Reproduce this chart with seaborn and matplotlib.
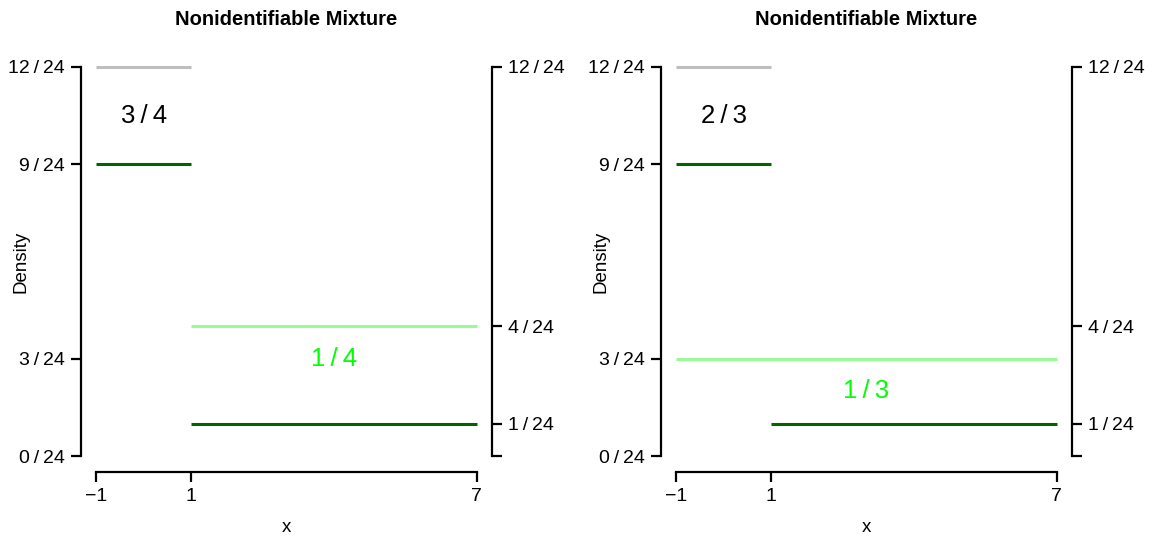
import matplotlib
matplotlib.use("Agg")
import matplotlib.pyplot as plt
import seaborn as sns
import pandas as pd

sns.set_style("white")
plt.rcParams["font.family"] = ["Liberation Sans", "DejaVu Sans"]
plt.rcParams.update({"text.color": "black", "axes.labelcolor": "black",
                     "xtick.color": "black", "ytick.color": "black"})

# Densities are expressed in 24ths
GRAY = "#bebebe"
DARK = "#006400"
PALE = "#98fb98"
LABEL_GREEN = "#00ff00"

# Left panel: mixture of U(-1,1) and U(1,7) with weights 3/4 and 1/4
left_x0 = [-1, -1, 1, 1]
left_x1 = [1, 1, 7, 7]
left_num = [12, 9, 4, 1]
left_col = [GRAY, DARK, PALE, DARK]

# Right panel: weights 2/3 and 1/3, second component U(-1,7)
right_x0 = [-1, -1, -1, 1]
right_x1 = [1, 1, 7, 7]
right_num = [12, 9, 3, 1]
right_col = [GRAY, DARK, PALE, DARK]

left_weights = ["3/4", "1/4"]
right_weights = ["2/3", "1/3"]
left_weight_pos = [(0, 0.437), (4, 3 / 24)]
right_weight_pos = [(0, 0.437), (3, 2 / 24)]

left_yticks = [0, 3, 9, 12]
right_yticks_outer = [0, 1, 4, 12]

x_ticks = [-1, 1, 7]
x_ticklabels = ["\u22121", "1", "7"]


def frac(n):
    return f"{n}\u2009/\u2009{24}"


def panel(ax, x0, x1, num, cols, weights, wpos, right_ticks):
    for a, b, n, c in zip(x0, x1, num, cols):
        seg = pd.DataFrame({"x": [a, b], "y": [n / 24, n / 24]})
        sns.lineplot(data=seg, x="x", y="y", color=c, linewidth=2.2, ax=ax,
                     solid_capstyle="butt")
    for (wx, wy), txt, c in zip(wpos, weights, ["black", LABEL_GREEN]):
        ax.text(wx, wy, txt.replace("/", "\u2009/\u2009"), color=c, fontsize=18.5,
                ha="center", va="center")

    ax.set_xlim(-1.32, 7.32)
    ax.set_ylim(-0.02, 0.52)
    ax.spines["top"].set_visible(False)
    for s in ["left", "bottom", "right"]:
        ax.spines[s].set_linewidth(1.6)
        ax.spines[s].set_color("black")
    ax.spines["left"].set_bounds(0, 0.5)
    ax.spines["right"].set_bounds(0, 0.5)
    ax.spines["bottom"].set_bounds(-1, 7)

    ax.set_xticks(x_ticks)
    ax.set_xticklabels(x_ticklabels)
    ax.set_yticks([v / 24 for v in left_yticks])
    ax.set_yticklabels([frac(v) for v in left_yticks])
    ax.tick_params(axis="both", direction="out", length=7.5, width=1.6,
                   labelsize=14, color="black", left=True, bottom=True, pad=4)

    twin = ax.twinx()
    twin.set_ylim(ax.get_ylim())
    for s in ["top", "left", "bottom", "right"]:
        twin.spines[s].set_visible(False)
    twin.set_yticks([v / 24 for v in right_ticks])
    twin.set_yticklabels([frac(v) if v != 0 else "" for v in right_ticks])
    twin.tick_params(axis="y", direction="out", length=7.5, width=1.6,
                     labelsize=14, right=True, pad=4)
    twin.grid(False)

    ax.set_title("Nonidentifiable Mixture", fontsize=14.5, fontweight="bold",
                 pad=19, color="black")
    ax.set_xlabel("x", fontsize=13.5)
    ax.set_ylabel("Density", fontsize=13.5)
    ax.xaxis.set_label_coords(0.5, -0.112)
    ax.yaxis.set_label_coords(-0.126, 0.5)
    ax.grid(False)


fig = plt.figure(figsize=(11.54, 5.37), dpi=100)
W, H = 1154, 537
ax1 = fig.add_axes([81 / W, (H - 472) / H, 411 / W, 421 / H])
ax2 = fig.add_axes([661 / W, (H - 472) / H, 411 / W, 421 / H])

panel(ax1, left_x0, left_x1, left_num, left_col, left_weights, left_weight_pos,
      right_yticks_outer)
panel(ax2, right_x0, right_x1, right_num, right_col, right_weights, right_weight_pos,
      right_yticks_outer)

fig.savefig("out.png", dpi=100)
